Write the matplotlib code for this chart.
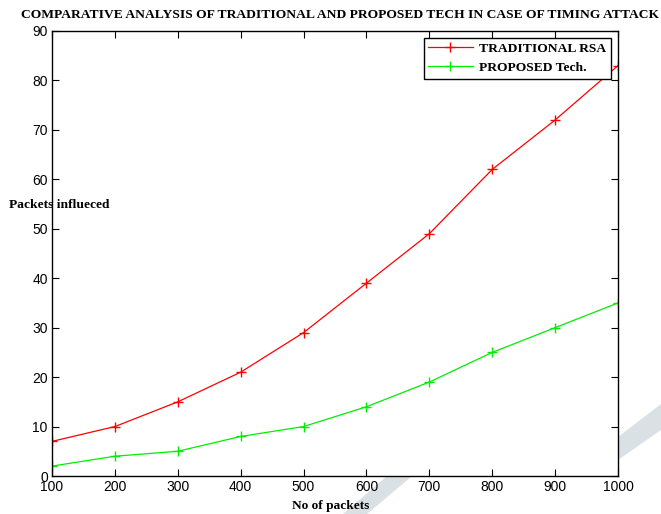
import numpy as np
import matplotlib.pyplot as plt
from matplotlib.patches import Polygon

packets = [100, 200, 300, 400, 500, 600, 700, 800, 900, 1000]
traditional_rsa = [7, 10, 15, 21, 29, 39, 49, 62, 72, 83]
proposed_tech = [2, 4, 5, 8, 10, 14, 19, 25, 30, 35]

serif = ['Liberation Serif', 'DejaVu Serif']
sans = ['Liberation Sans', 'DejaVu Sans']

W, H = 661, 514
fig = plt.figure(figsize=(W / 100, H / 100), dpi=100)

# faint grey watermark stroke, mostly hidden behind the white axes
pts = [(343, 514), (387, 476), (500, 470), (618, 460), (661, 430),
       (661, 404), (618, 437), (500, 445), (412, 476), (367, 514)]
wm = Polygon([(x / W, 1 - y / H) for x, y in pts], closed=True,
             transform=fig.transFigure, facecolor='#dae1e4',
             edgecolor='none', zorder=0)
fig.patches.append(wm)

ax = fig.add_axes([52 / W, 1 - 476 / H, 566 / W, 445 / H])
ax.set_facecolor('white')
ax.set_zorder(1)

ax.plot(packets, traditional_rsa, color='#ff0000', marker='+', markersize=6.5,
        markeredgewidth=1.0, linewidth=0.9, label='TRADITIONAL RSA')
ax.plot(packets, proposed_tech, color='#00ee00', marker='+', markersize=6.5,
        markeredgewidth=1.0, linewidth=0.9, label='PROPOSED Tech.')

ax.set_xlim(100, 1000)
ax.set_ylim(0, 90)
ax.set_xticks(packets)
ax.set_yticks(np.arange(0, 91, 10))
ax.tick_params(direction='in', top=True, right=True, length=5, width=0.8,
               labelsize=10, pad=3)
for lab in ax.get_xticklabels() + ax.get_yticklabels():
    lab.set_family(sans)
for s in ax.spines.values():
    s.set_linewidth(1.0)

fig.text(340 / W, 0.971, 'COMPARATIVE ANALYSIS OF TRADITIONAL AND PROPOSED TECH IN CASE OF TIMING ATTACK',
         ha='center', va='center', fontsize=9.7, fontweight='bold', family=serif)
fig.text(9 / W, 1 - 205 / H, 'Packets influeced', ha='left', va='center',
         fontsize=9.7, fontweight='bold', family=serif)
fig.text(331 / W, 1 - 506 / H, 'No of packets', ha='center', va='center',
         fontsize=9.6, fontweight='bold', family=serif)

leg = ax.legend(loc='upper right', prop={'family': serif, 'weight': 'bold', 'size': 9.7},
                frameon=True, fancybox=False, edgecolor='black', framealpha=1,
                borderaxespad=0.5, handlelength=3.3, borderpad=0.35, labelspacing=0.5,
                handletextpad=0.5)
leg.get_frame().set_linewidth(1.0)

fig.savefig('out.png', dpi=100)
